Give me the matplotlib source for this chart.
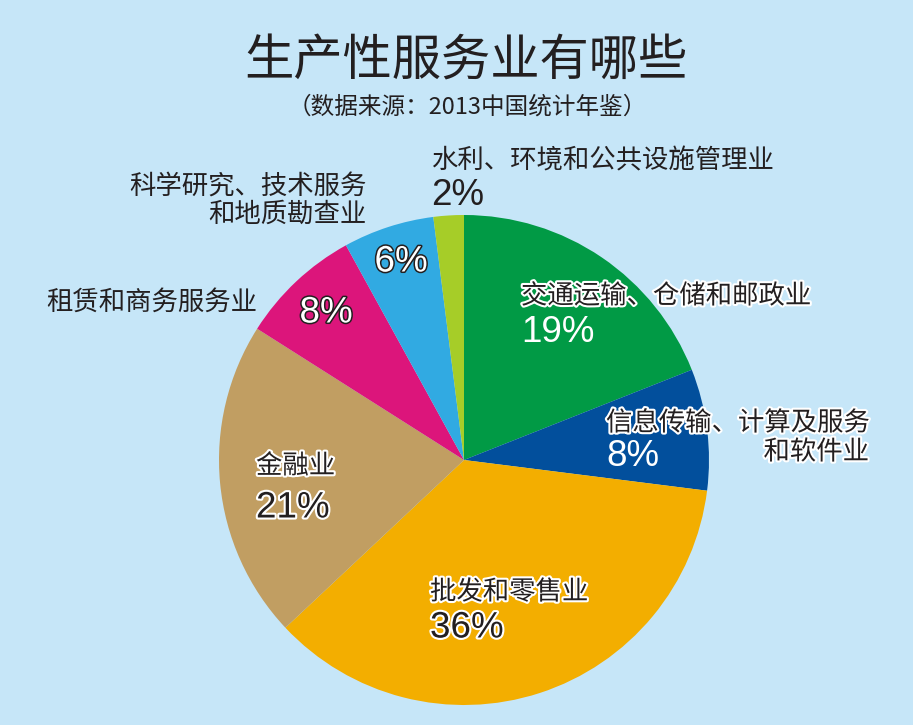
import matplotlib
matplotlib.use('Agg')
import matplotlib.pyplot as plt
import matplotlib.patheffects as pe

plt.rcParams['font.family'] = ['Noto Sans CJK SC', 'DejaVu Sans']

# 数据 (2013中国统计年鉴)
categories = ['交通运输、仓储和邮政业', '信息传输、计算及服务和软件业', '批发和零售业',
              '金融业', '租赁和商务服务业', '科学研究、技术服务和地质勘查业',
              '水利、环境和公共设施管理业']
values = [19, 8, 36, 21, 8, 6, 2]
colors = ['#019a45', '#024f9c', '#f3ae00', '#c19e62', '#dc157b', '#31aae2', '#a6cd28']
pct_labels = ['%d%%' % v for v in values]

W, H = 913, 725
BG = '#c6e6f8'
DARK = '#231f20'

fig = plt.figure(figsize=(W / 100, H / 100), dpi=100)
fig.patch.set_facecolor(BG)
ax = fig.add_axes([0, 0, 1, 1])
ax.set_facecolor(BG)

ax.pie(values, colors=colors, startangle=90, counterclock=False,
       center=(464, H - 460), radius=245, frame=True,
       wedgeprops=dict(linewidth=0))
ax.set_xlim(0, W)
ax.set_ylim(0, H)
ax.set_aspect('equal')
ax.axis('off')

white_edge = [pe.withStroke(linewidth=3, foreground='white')]
dark_edge = [pe.withStroke(linewidth=2.2, foreground=DARK)]
PCT_FONT = ['Liberation Sans', 'DejaVu Sans']
PCT = 26.5


def txt(x, y, s, size=19, ha='left', color=DARK, effects=None, family=None, **kw):
    t = ax.text(x, H - y, s, fontsize=size, ha=ha, va='center', color=color,
                family=family, **kw)
    if effects:
        t.set_path_effects(effects)
    return t


# 标题
txt(466, 62, '生产性服务业有哪些', size=35.5, ha='center', weight='medium')
txt(467, 107, '（数据来源：2013中国统计年鉴）', size=17, ha='center')

# 交通运输
txt(521, 296, '交通运输、仓储和邮政业', weight='medium', effects=white_edge)
txt(521, 332, pct_labels[0], size=PCT, color='white', family=PCT_FONT)
# 信息传输
txt(606, 423, '信息传输、计算及服务', weight='medium', effects=white_edge)
txt(869, 452, '和软件业', ha='right', weight='medium', effects=white_edge)
txt(606, 456, pct_labels[1], size=PCT, color='white', family=PCT_FONT)
# 批发和零售业
txt(430, 592, '批发和零售业', weight='medium', effects=white_edge)
txt(430, 628, pct_labels[2], size=PCT, family=PCT_FONT, effects=white_edge)
# 金融业
txt(256, 466, '金融业', weight='medium', effects=white_edge)
txt(256, 508, pct_labels[3], size=PCT, family=PCT_FONT, effects=white_edge)
# 租赁和商务服务业
txt(46, 302, '租赁和商务服务业')
txt(326, 313, pct_labels[4], size=PCT, ha='center', color='white',
    family=PCT_FONT, effects=dark_edge)
# 科学研究
txt(367, 187, '科学研究、技术服务', ha='right')
txt(367, 214, '和地质勘查业', ha='right')
txt(401, 262, pct_labels[5], size=PCT, ha='center', color='white',
    family=PCT_FONT, effects=dark_edge)
# 水利
txt(431, 161, '水利、环境和公共设施管理业')
txt(431, 195, pct_labels[6], size=PCT, family=PCT_FONT)

fig.savefig('out.png', dpi=100, facecolor=BG)
